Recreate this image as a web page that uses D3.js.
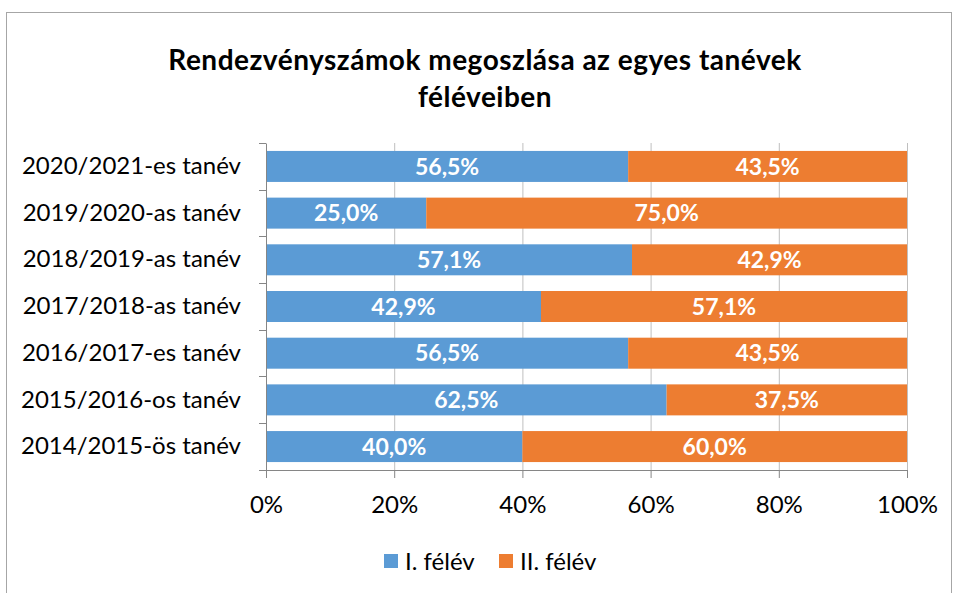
<!DOCTYPE html>
<html>
<head>
<meta charset="utf-8">
<script src="https://cdn.jsdelivr.net/npm/d3@7"></script>
<style>
body{margin:0;background:#fff}
text{font-family:Lato,"Open Sans",sans-serif}
</style>
</head>
<body>
<script>
// tanevek, felulrol lefele
var categories=["2020/2021-es tanév","2019/2020-as tanév","2018/2019-as tanév","2017/2018-as tanév","2016/2017-es tanév","2015/2016-os tanév","2014/2015-ös tanév"]
var felev1=[56.5,25.0,57.1,42.9,56.5,62.5,40.0]
var felev2=[43.5,75.0,42.9,57.1,43.5,37.5,60.0]
var seriesNames=["I. félév","II. félév"]
var colors=["#5B9BD5","#ED7D31"]
var ticks=[0,20,40,60,80,100]

var width=954,height=593
var m={left:266,right:47,top:143,bottom:123}

const svg=d3.select("body").append("svg").attr("width",width).attr("height",height)

// keret
svg.append("rect").attr("x",6.5).attr("y",12.5).attr("width",width-9).attr("height",height)
	.attr("fill","white").attr("stroke","#A6A6A6")

svg.append("text").attr("x",485).attr("y",70).attr("text-anchor","middle")
	.attr("font-size",28).attr("font-weight","bold").attr("letter-spacing",0.5).text("Rendezvényszámok megoszlása az egyes tanévek")
svg.append("text").attr("x",485).attr("y",107).attr("text-anchor","middle")
	.attr("font-size",28).attr("font-weight","bold").attr("letter-spacing",0.5).text("féléveiben")

var x=d3.scaleLinear().domain([0,100]).range([m.left,width-m.right])
var y=d3.scaleBand().domain(categories).range([m.top,height-m.bottom]).paddingInner(0.336).paddingOuter(0.17)

// racsvonalak
svg.append("g").selectAll("line").data(ticks.slice(1)).join("line")
	.attr("x1",d=>x(d)+0.5).attr("x2",d=>x(d)+0.5)
	.attr("y1",m.top).attr("y2",height-m.bottom)
	.attr("stroke","#BFBFBF")

var rows=categories.map((c,i)=>({cat:c,vals:[felev1[i],felev2[i]]}))
var segs=[]
rows.forEach(r=>{
	let acc=0
	r.vals.forEach((v,j)=>{segs.push({cat:r.cat,s:j,x0:acc,x1:acc+v,v:v});acc+=v})
})

svg.append("g").selectAll("rect").data(segs).join("rect")
	.attr("x",d=>x(d.x0)).attr("width",d=>x(d.x1)-x(d.x0))
	.attr("y",d=>y(d.cat)).attr("height",y.bandwidth())
	.attr("fill",d=>colors[d.s])

svg.append("g").selectAll("text").data(segs).join("text")
	.attr("x",d=>(x(d.x0)+x(d.x1))/2).attr("y",d=>y(d.cat)+y.bandwidth()/2)
	.attr("dy","0.36em").attr("text-anchor","middle")
	.attr("fill","white").attr("font-weight","bold").attr("font-size",23)
	.text(d=>d.v.toFixed(1).replace(".",",")+"%")

// tengelyek
var xAxis=svg.append("g").attr("transform","translate(0,"+(height-m.bottom)+")")
	.call(d3.axisBottom(x).tickValues(ticks).tickSize(8).tickPadding(18).tickFormat(d=>d+"%"))
var yAxis=svg.append("g").attr("transform","translate("+m.left+",0)")
	.call(d3.axisLeft(y).tickSize(0).tickPadding(25))
yAxis.selectAll(".tick line").remove()
// kategoria hatar jelolok
var step=y.step()
svg.append("g").selectAll("line").data(d3.range(categories.length+1)).join("line")
	.attr("x1",m.left-7).attr("x2",m.left)
	.attr("y1",i=>Math.round(m.top+i*step)+0.5).attr("y2",i=>Math.round(m.top+i*step)+0.5)
	.attr("stroke","#868686")
xAxis.select(".domain").attr("d","M"+(m.left-7)+",0.5H"+(width-m.right))
;[xAxis,yAxis].forEach(a=>{
	a.selectAll(".domain").attr("stroke","#868686")
	a.selectAll(".tick line").attr("stroke","#868686")
	a.selectAll("text").attr("font-size",24).attr("fill","#000").attr("font-family",'Lato,"Open Sans",sans-serif')
})

// jelmagyarazat
var lg=svg.append("g").attr("transform","translate(384,561)")
var lx=[0,115]
seriesNames.forEach((n,i)=>{
	lg.append("rect").attr("x",lx[i]).attr("y",-7).attr("width",14).attr("height",14).attr("fill",colors[i])
	lg.append("text").attr("x",lx[i]+21).attr("y",0).attr("dy","0.36em").attr("font-size",24).text(n)
})
</script>
</body>
</html>
